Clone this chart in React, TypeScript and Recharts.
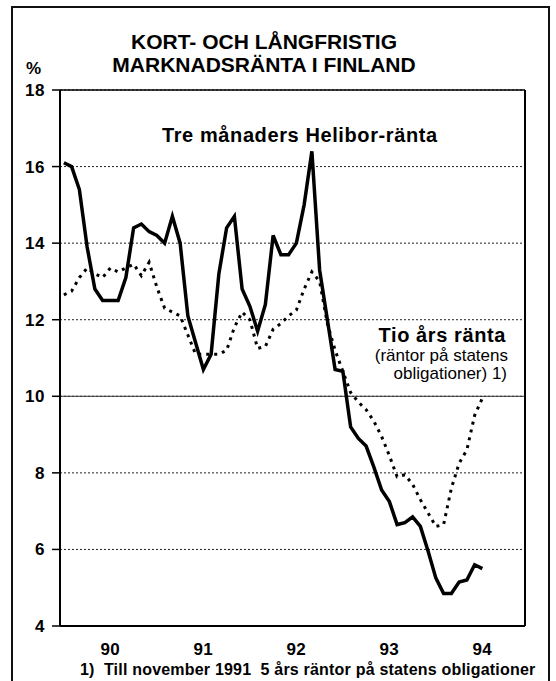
import React from "react";
import { LineChart, Line, XAxis, YAxis, CartesianGrid, ReferenceLine } from "recharts";

// Monthly data, Jan 1990 .. Jul 1994 (month index 0..54)
const helibor3m = [
  16.1, 16.0, 15.4, 13.9, 12.8, 12.5, 12.5, 12.5, 13.1, 14.4, 14.5, 14.3,
  14.2, 14.0, 14.7, 14.0, 12.1, 11.4, 10.7, 11.1, 13.2, 14.4, 14.7, 12.8,
  12.35, 11.7, 12.4, 14.2, 13.7, 13.7, 14.0, 15.0, 16.4, 13.3, 12.0, 10.7,
  10.65, 9.2, 8.9, 8.7, 8.15, 7.55, 7.25, 6.65, 6.7, 6.85, 6.6, 5.95,
  5.25, 4.85, 4.85, 5.15, 5.2, 5.6, 5.5,
];
const tenYear = [
  12.65, 12.75, 13.1, 13.35, 13.2, 13.1, 13.35, 13.25, 13.35, 13.45, 13.15, 13.5,
  12.85, 12.3, 12.2, 12.1, 11.6, 11.1, 11.1, 11.1, 11.1, 11.2, 11.8, 12.2,
  12.0, 11.25, 11.3, 11.75, 11.9, 12.1, 12.25, 12.8, 13.25, 13.0, 11.9, 11.2,
  10.65, 10.1, 9.85, 9.65, 9.35, 8.95, 8.45, 7.9, 7.95, 7.7, 7.3, 6.95,
  6.6, 6.65, 7.6, 8.25, 8.6, 9.5, 9.95,
];
const yearLabels = ["90", "91", "92", "93", "94"];
const yTicks = [4, 6, 8, 10, 12, 14, 16, 18];

const title1 = "KORT- OCH LÅNGFRISTIG";
const title2 = "MARKNADSRÄNTA I FINLAND";
const shortLabel = "Tre månaders Helibor-ränta";
const longLabel = "Tio års ränta";
const longSub1 = "(räntor på statens";
const longSub2 = "obligationer) 1)";
const footnote = "1)  Till november 1991  5 års räntor på statens obligationer";

const data = helibor3m.map((v, i) => ({ m: i + 0.5, short: v, long: tenYear[i] }));
const yearBounds = yearLabels.map((_, i) => i * 12).concat([yearLabels.length * 12]);
const yearMid = yearLabels.map((_, i) => i * 12 + 6.5);

const FONT = "'Liberation Sans', Arial, Helvetica, sans-serif";

const abs = (extra: React.CSSProperties): React.CSSProperties => ({
  position: "absolute",
  fontFamily: FONT,
  fontWeight: "bold",
  color: "#000",
  whiteSpace: "pre",
  lineHeight: 1,
  ...extra,
});

const tickStyle = { fill: "#000", fontFamily: FONT, fontWeight: "bold", fontSize: 17, letterSpacing: 0.5 };

export default function App() {
  return (
    <div style={{ position: "absolute", left: 0, top: 0, width: 556, height: 681, background: "#fff", overflow: "hidden" }}>
      <div style={{ position: "absolute", left: 11, top: 6, width: 539, height: 680, border: "2px solid #111", boxSizing: "border-box" }} />
      <div style={{ position: "absolute", left: 0, top: 0 }}>
        <LineChart width={556} height={681} data={data} margin={{ top: 90, right: 31, bottom: 15, left: 0 }}>
          <CartesianGrid stroke="#222" strokeDasharray="2 2" strokeWidth={1} />
          <XAxis
            dataKey="m"
            type="number"
            domain={[0, 60]}
            ticks={yearBounds}
            tick={false}
            tickSize={7}
            height={10}
            axisLine={{ stroke: "#000", strokeWidth: 2 }}
            tickLine={{ stroke: "#000", strokeWidth: 1.5 }}
            allowDataOverflow
          />
          <XAxis
            xAxisId="yr"
            dataKey="m"
            type="number"
            domain={[0, 60]}
            ticks={yearMid}
            tickFormatter={(v: number) => yearLabels[Math.floor(v / 12)]}
            axisLine={false}
            tickLine={false}
            tickSize={0}
            tickMargin={7}
            height={30}
            interval={0}
            tick={tickStyle}
          />
          <YAxis
            type="number"
            domain={[4, 18]}
            ticks={yTicks}
            interval={0}
            width={60}
            tickSize={8}
            tickMargin={7}
            axisLine={{ stroke: "#000", strokeWidth: 2 }}
            tickLine={{ stroke: "#000", strokeWidth: 1.5 }}
            tick={tickStyle}
          />
          <ReferenceLine y={10} stroke="#333" strokeWidth={1} />
          <ReferenceLine y={18} stroke="#000" strokeWidth={1.5} />
          <ReferenceLine x={60} stroke="#000" strokeWidth={2} />
          <Line
            dataKey="long"
            stroke="#000"
            strokeWidth={3}
            strokeDasharray="3 5"
            dot={false}
            isAnimationActive={false}
          />
          <Line
            dataKey="short"
            stroke="#000"
            strokeWidth={3.5}
            strokeLinejoin="miter"
            dot={false}
            isAnimationActive={false}
          />
        </LineChart>
      </div>
      <div style={abs({ left: 0, width: 528, top: 31, fontSize: 21, textAlign: "center" })}>{title1}</div>
      <div style={abs({ left: 0, width: 528, top: 54, fontSize: 21, textAlign: "center" })}>{title2}</div>
      <div style={abs({ left: 26, top: 60, fontSize: 17 })}>%</div>
      <div style={abs({ left: 162, top: 125, fontSize: 20, letterSpacing: 0.6 })}>{shortLabel}</div>
      <div style={abs({ right: 50, top: 325, fontSize: 20, letterSpacing: 0.6 })}>{longLabel}</div>
      <div style={abs({ right: 48, top: 347, fontSize: 17, fontWeight: "normal" })}>{longSub1}</div>
      <div style={abs({ right: 49, top: 365, fontSize: 17, fontWeight: "normal" })}>{longSub2}</div>
      <div style={abs({ left: 80, top: 662, fontSize: 16, letterSpacing: 0.2 })}>{footnote}</div>
    </div>
  );
}
